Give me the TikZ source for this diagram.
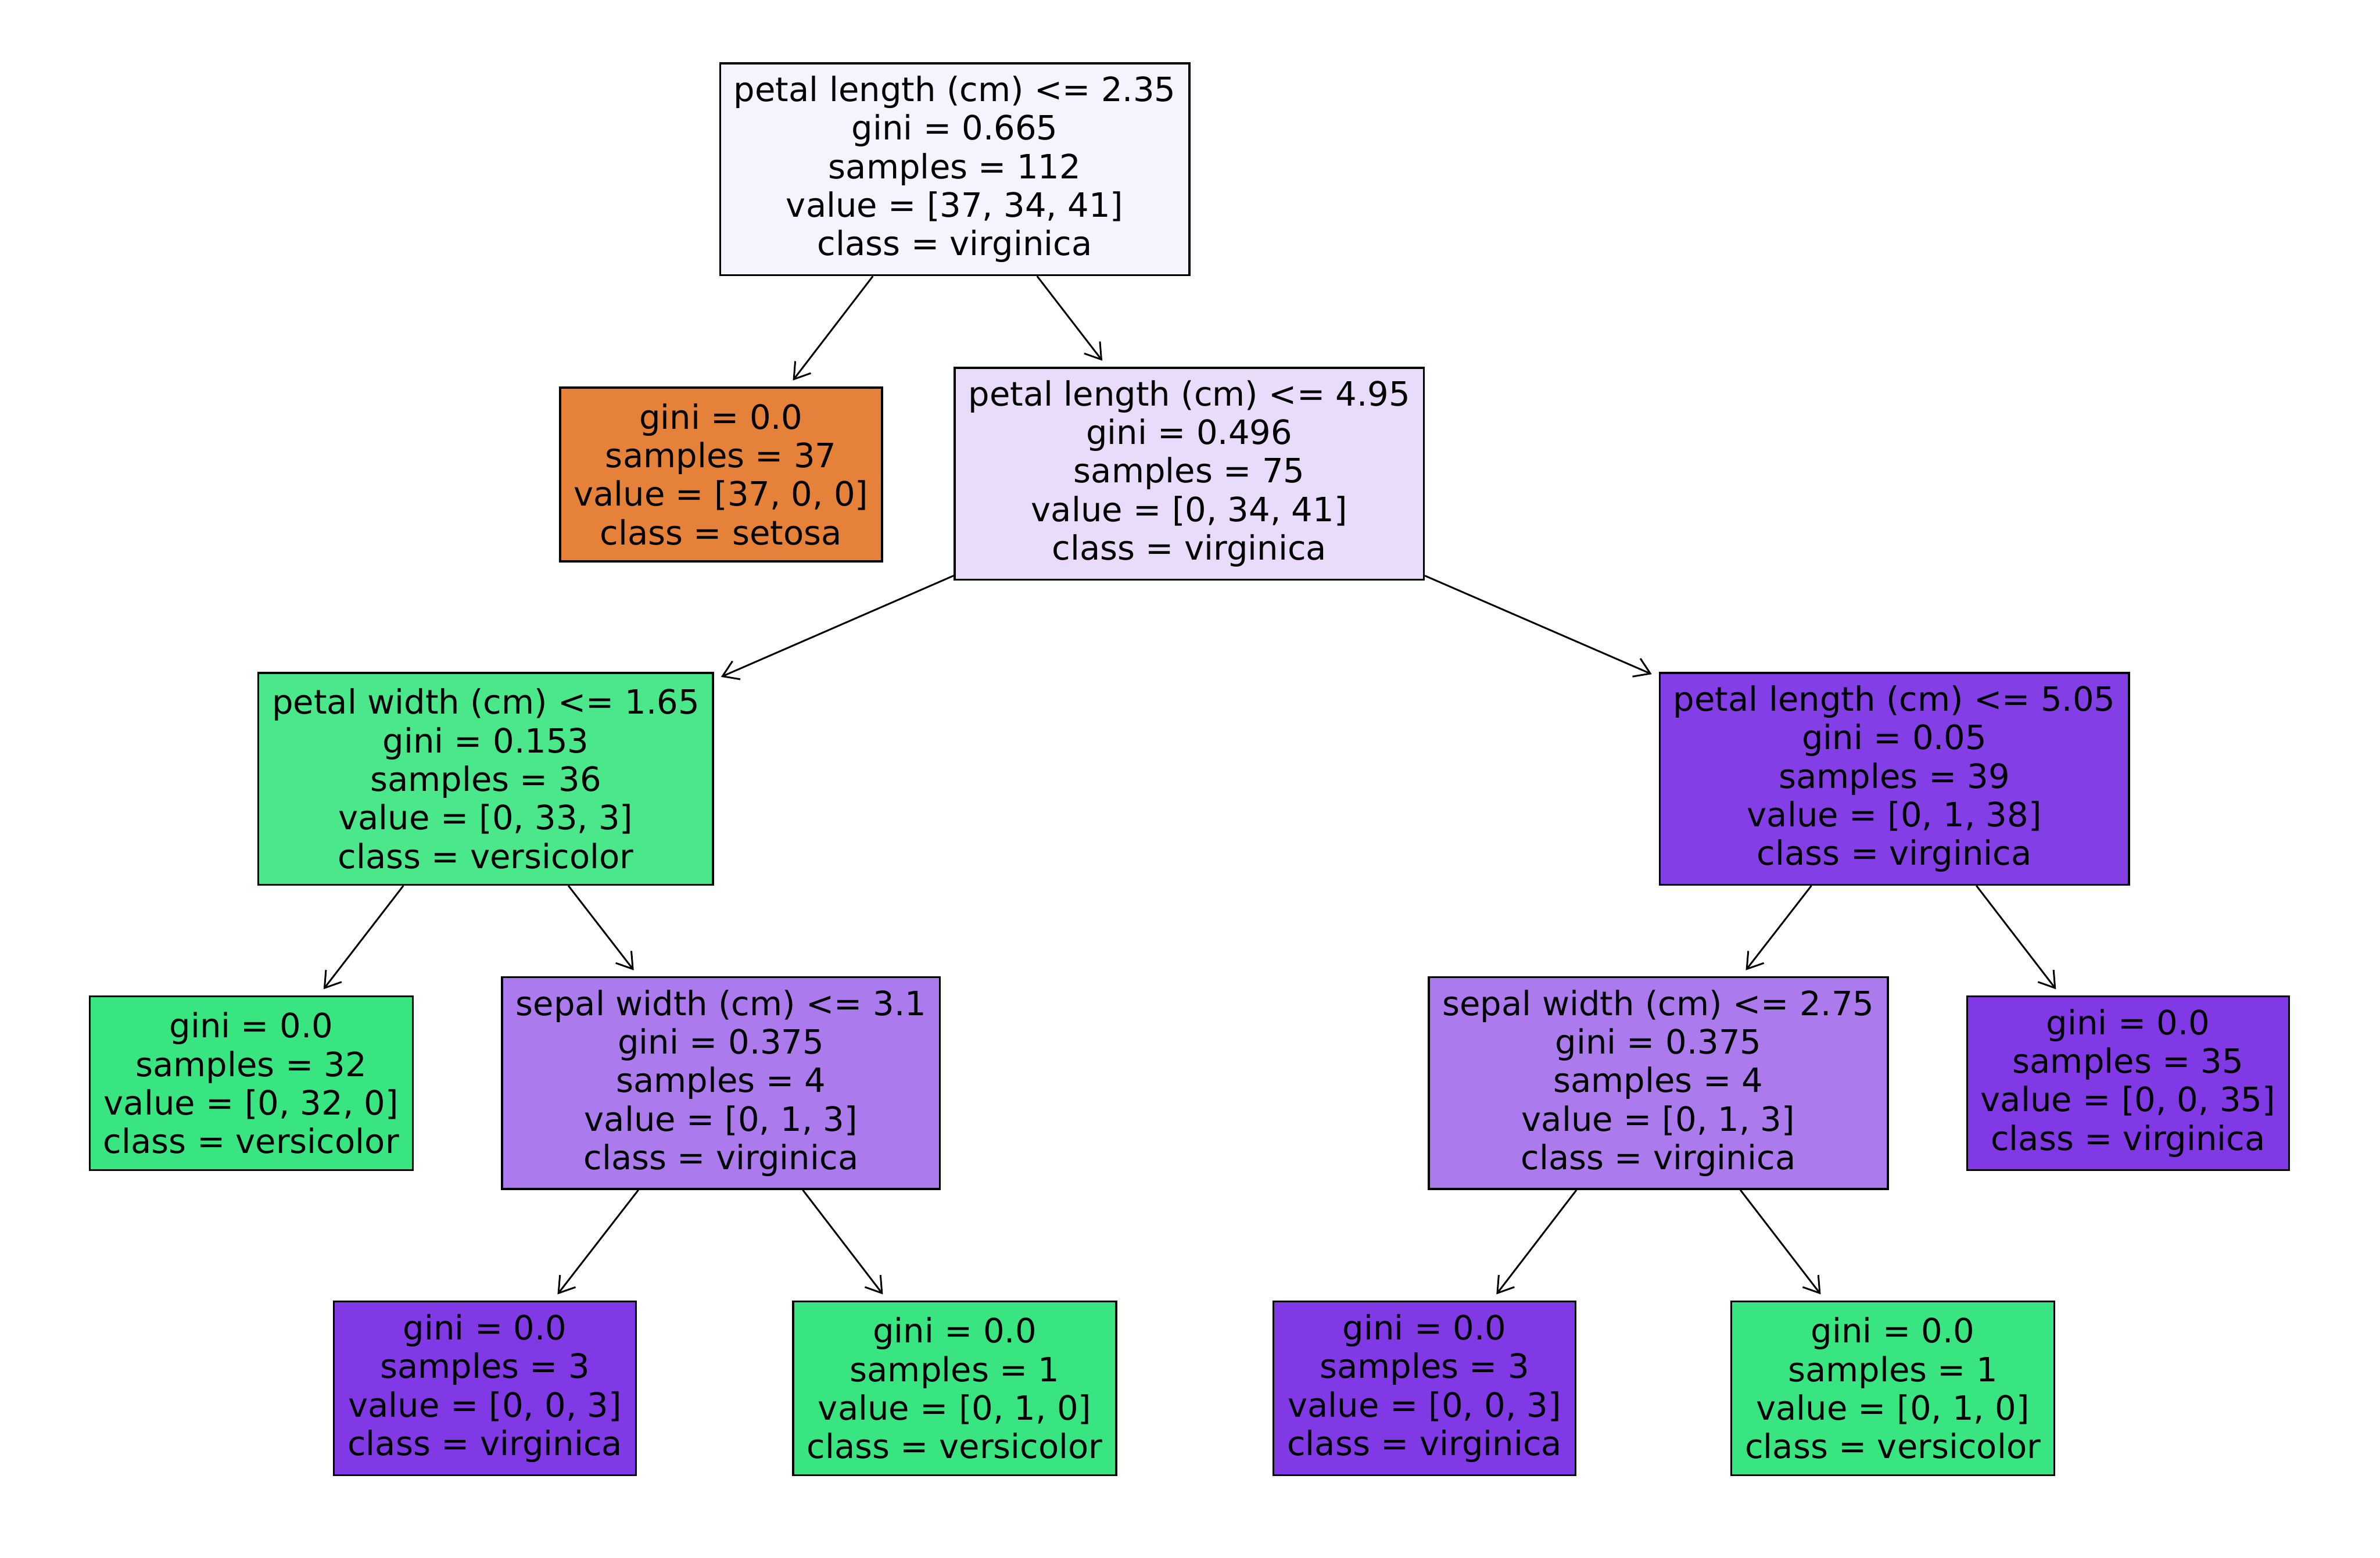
\documentclass[tikz,border=0pt]{standalone}
\usepackage{fontspec}
\setmainfont{DejaVu Sans}
\usepackage{xcolor}
\usepackage{tikz}
\usetikzlibrary{arrows.meta,positioning}
\definecolor{irisSetosa}{HTML}{E58139}
\definecolor{irisVersicolor}{HTML}{39E581}
\definecolor{irisVirginica}{HTML}{8139E5}
\definecolor{irisRoot}{HTML}{F6F3FE}
\definecolor{irisMixed}{HTML}{E9DCFB}
\definecolor{irisMostlyVersicolor}{HTML}{4AE78B}
\definecolor{irisMostlyVirginica}{HTML}{AB7BEE}
\definecolor{irisNearlyVirginica}{HTML}{843EE6}
\tikzset{
  treenode/.style={
    rectangle,
    draw=black,
    line width=0.75pt,
    align=center,
    inner xsep=0.18cm,
    inner ysep=0pt,
    font=\fontsize{12.55}{14.45}\selectfont
  },
  splitnode/.style={
    treenode,
    minimum height=2.79cm
  },
  leafnode/.style={
    treenode,
    minimum height=2.29cm
  },
  arrow/.style={
    -{Straight Barb[length=2mm,width=2.6mm]},
    line width=0.65pt,
    draw=black,
    shorten >=1mm
  }
}
\begin{document}
\begin{tikzpicture}
  \useasboundingbox (0,0) rectangle (31.36,-20.52);
  \node[splitnode,fill=irisRoot] (root) at (12.58,-2.23)
    {petal length (cm) <= 2.35\\gini = 0.665\\samples = 112\\value = [37, 34, 41]\\class = virginica};
  \node[leafnode,fill=irisSetosa] (setosa) at (9.50,-6.25)
    {gini = 0.0\\samples = 37\\value = [37, 0, 0]\\class = setosa};
  \node[splitnode,fill=irisMixed] (petalB) at (15.67,-6.24)
    {petal length (cm) <= 4.95\\gini = 0.496\\samples = 75\\value = [0, 34, 41]\\class = virginica};
  \node[splitnode,fill=irisMostlyVersicolor] (petalW) at (6.40,-10.26)
    {petal width (cm) <= 1.65\\gini = 0.153\\samples = 36\\value = [0, 33, 3]\\class = versicolor};
  \node[splitnode,fill=irisNearlyVirginica] (petalC) at (24.96,-10.26)
    {petal length (cm) <= 5.05\\gini = 0.05\\samples = 39\\value = [0, 1, 38]\\class = virginica};
  \node[leafnode,fill=irisVersicolor] (versiA) at (3.31,-14.27)
    {gini = 0.0\\samples = 32\\value = [0, 32, 0]\\class = versicolor};
  \node[splitnode,fill=irisMostlyVirginica] (sepalA) at (9.50,-14.27)
    {sepal width (cm) <= 3.1\\gini = 0.375\\samples = 4\\value = [0, 1, 3]\\class = virginica};
  \node[splitnode,fill=irisMostlyVirginica] (sepalB) at (21.85,-14.27)
    {sepal width (cm) <= 2.75\\gini = 0.375\\samples = 4\\value = [0, 1, 3]\\class = virginica};
  \node[leafnode,fill=irisVirginica] (virgiA) at (28.04,-14.27)
    {gini = 0.0\\samples = 35\\value = [0, 0, 35]\\class = virginica};
  \node[leafnode,fill=irisVirginica] (virgiB) at (6.39,-18.29)
    {gini = 0.0\\samples = 3\\value = [0, 0, 3]\\class = virginica};
  \node[leafnode,fill=irisVersicolor] (versiB) at (12.58,-18.29)
    {gini = 0.0\\samples = 1\\value = [0, 1, 0]\\class = versicolor};
  \node[leafnode,fill=irisVirginica] (virgiC) at (18.77,-18.29)
    {gini = 0.0\\samples = 3\\value = [0, 0, 3]\\class = virginica};
  \node[leafnode,fill=irisVersicolor] (versiC) at (24.94,-18.29)
    {gini = 0.0\\samples = 1\\value = [0, 1, 0]\\class = versicolor};
  \draw[arrow] (root) -- (setosa);
  \draw[arrow] (root) -- (petalB);
  \draw[arrow] (petalB) -- (petalW);
  \draw[arrow] (petalB) -- (petalC);
  \draw[arrow] (petalW) -- (versiA);
  \draw[arrow] (petalW) -- (sepalA);
  \draw[arrow] (petalC) -- (sepalB);
  \draw[arrow] (petalC) -- (virgiA);
  \draw[arrow] (sepalA) -- (virgiB);
  \draw[arrow] (sepalA) -- (versiB);
  \draw[arrow] (sepalB) -- (virgiC);
  \draw[arrow] (sepalB) -- (versiC);
\end{tikzpicture}
\end{document}
